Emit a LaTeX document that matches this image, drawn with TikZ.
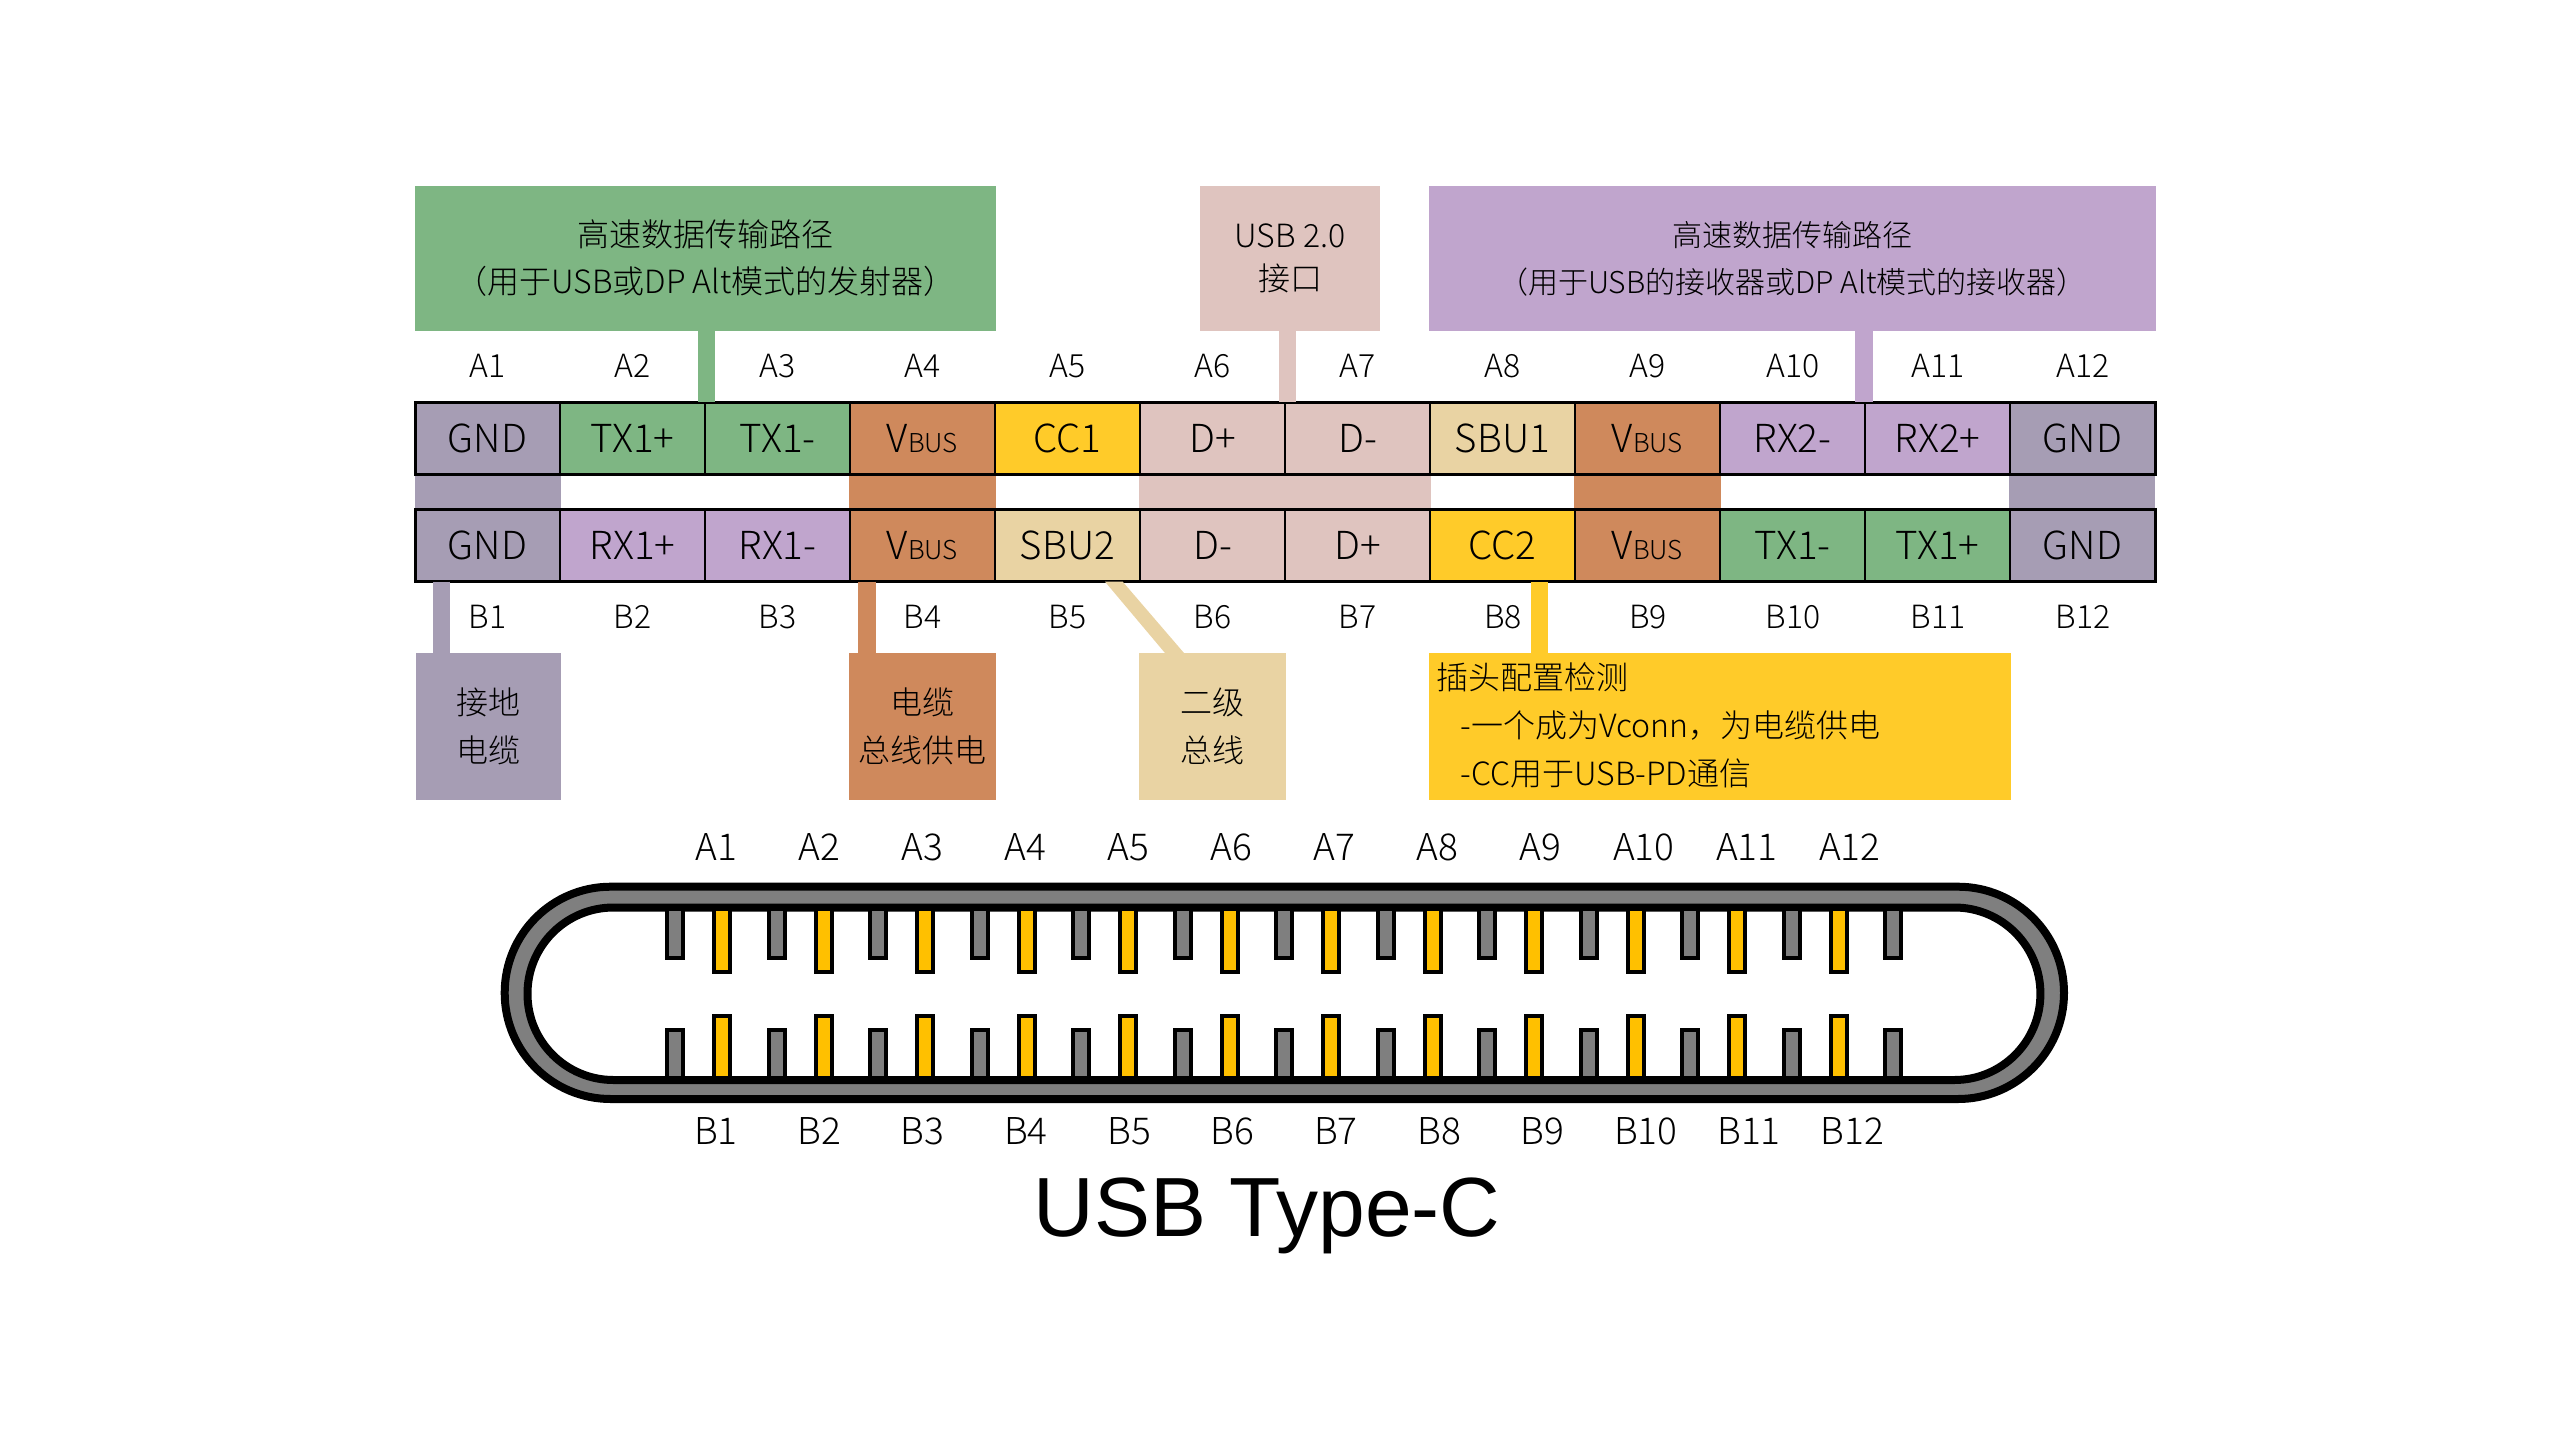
\documentclass[tikz,border=0pt]{standalone}
\usepackage{fontspec}
\setmainfont{Noto Sans CJK SC Light}
\newfontfamily\titlefont{Liberation Sans}
\newdimen\pxu \pxu=0.5pt
\definecolor{cgreen}{RGB}{126,182,131}
\definecolor{cgnd}{RGB}{166,157,180}
\definecolor{corange}{RGB}{207,137,92}
\definecolor{cyellow}{RGB}{255,203,41}
\definecolor{cpink}{RGB}{223,196,191}
\definecolor{ctan}{RGB}{233,211,163}
\definecolor{cpurple}{RGB}{192,165,205}
\definecolor{cpin}{RGB}{127,127,127}
\definecolor{cgold}{RGB}{255,192,0}
\newcommand{\vbus}{V{\fontsize{13}{13}\selectfont BUS}}
\tikzset{
  x=0.5pt,y=-0.5pt,
  cell/.style={draw=black,line width=2\pxu,inner sep=0pt,outer sep=0pt,minimum width=145\pxu,minimum height=72.7\pxu,font=\fontsize{19.3}{19.3}\selectfont,text height=14pt,text depth=0pt,anchor=north west},
  rowframe/.style={draw=black,line width=3\pxu,fill=none,inner sep=0pt,outer sep=0pt,anchor=north west,minimum width=1740\pxu,minimum height=72.7\pxu},
  pinlabel/.style={inner sep=0pt,font=\fontsize{16}{16}\selectfont,text height=11.7pt,text depth=0pt},
  portlabel/.style={inner sep=0pt,font=\fontsize{18.5}{18.5}\selectfont,text height=13.5pt,text depth=0pt},
  infobox/.style={inner sep=0pt,outer sep=0pt,anchor=north west,align=center,font=\fontsize{16}{23.5}\selectfont},
  lowerbox/.style={infobox,font=\fontsize{16}{24}\selectfont,minimum height=147\pxu},
  band/.style={line width=17.5\pxu},
}
\newcommand{\cellat}[5]{\node[cell,fill=#4] (#1) at ({415+145*#2},#3) {#5};}
\begin{document}
\begin{tikzpicture}
\useasboundingbox (0,0) rectangle (2560,1440);
% info boxes top
\node[infobox,fill=cgreen,minimum width=581\pxu,minimum height=145\pxu] (hsT) at (415,186) {高速数据传输路径\\（用于USB或DP Alt模式的发射器）};
\node[infobox,fill=cpink,minimum width=180\pxu,minimum height=145\pxu,font=\fontsize{16}{21.5}\selectfont] (usbtwo) at (1200,186) {USB 2.0\\接口};
\node[infobox,fill=cpurple,minimum width=727\pxu,minimum height=145\pxu,font=\fontsize{15}{23.5}\selectfont] (hsR) at (1429,186) {高速数据传输路径\\（用于USB的接收器或DP Alt模式的接收器）};
% info boxes bottom
\node[lowerbox,fill=cgnd,minimum width=145\pxu] (gndbox) at (416,653) {接地\\电缆};
\node[lowerbox,fill=corange,minimum width=147\pxu] (vbusbox) at (849,653) {电缆\\总线供电};
\node[lowerbox,fill=ctan,minimum width=147\pxu] (sbubox) at (1139,653) {二级\\总线};
\node[lowerbox,fill=cyellow,minimum width=582\pxu] (ccbox) at (1429,653) {};
\node[inner sep=0pt,anchor=north west,align=left,font=\fontsize{16}{24}\selectfont] (cctext) at (1436,662) {插头配置检测\\\hspace*{12pt}-一个成为Vconn，为电缆供电\\\hspace*{12pt}-CC用于USB-PD通信};
% bands between rows
\fill[cgnd] (415,475) rectangle (561,509);
\fill[corange] (849,475) rectangle (996,509);
\fill[cpink] (1139,475) rectangle (1431,509);
\fill[corange] (1574,475) rectangle (1721,509);
\fill[cgnd] (2009,475) rectangle (2155,509);
% cells top
\cellat{a1}{0}{402}{cgnd}{GND}
\cellat{a2}{1}{402}{cgreen}{TX1+}
\cellat{a3}{2}{402}{cgreen}{TX1-}
\cellat{a4}{3}{402}{corange}{\vbus}
\cellat{a5}{4}{402}{cyellow}{CC1}
\cellat{a6}{5}{402}{cpink}{D+}
\cellat{a7}{6}{402}{cpink}{D-}
\cellat{a8}{7}{402}{ctan}{SBU1}
\cellat{a9}{8}{402}{corange}{\vbus}
\cellat{a10}{9}{402}{cpurple}{RX2-}
\cellat{a11}{10}{402}{cpurple}{RX2+}
\cellat{a12}{11}{402}{cgnd}{GND}
% cells bottom
\cellat{b1}{0}{509}{cgnd}{GND}
\cellat{b2}{1}{509}{cpurple}{RX1+}
\cellat{b3}{2}{509}{cpurple}{RX1-}
\cellat{b4}{3}{509}{corange}{\vbus}
\cellat{b5}{4}{509}{ctan}{SBU2}
\cellat{b6}{5}{509}{cpink}{D-}
\cellat{b7}{6}{509}{cpink}{D+}
\cellat{b8}{7}{509}{cyellow}{CC2}
\cellat{b9}{8}{509}{corange}{\vbus}
\cellat{b10}{9}{509}{cgreen}{TX1-}
\cellat{b11}{10}{509}{cgreen}{TX1+}
\cellat{b12}{11}{509}{cgnd}{GND}
\node[rowframe] (rowA) at (415,402) {};
\node[rowframe] (rowB) at (415,509) {};
% connectors
\coordinate (cxa) at (706.5,0);
\draw[band,cgreen] (hsT.south -| cxa) -- (a3.north -| cxa);
\coordinate (cxb) at (1287.5,0);
\draw[band,cpink] (usbtwo.south -| cxb) -- (a7.north -| cxb);
\coordinate (cxc) at (1864,0);
\draw[band,cpurple] (hsR.south -| cxc) -- (a11.north -| cxc);
\coordinate (cxd) at (441.5,0);
\draw[band,cgnd] (b1.south -| cxd) -- (gndbox.north -| cxd);
\coordinate (cxe) at (867,0);
\draw[band,corange] (b4.south -| cxe) -- (vbusbox.north -| cxe);
\coordinate (sa) at (1105,0);
\coordinate (sb) at (1122.7,0);
\coordinate (sc) at (1184,0);
\coordinate (sd) at (1165,0);
\fill[ctan] (b5.south -| sa) -- (b5.south -| sb) -- (sbubox.north -| sc) -- (sbubox.north -| sd) -- cycle;
\coordinate (cxf) at (1539.5,0);
\draw[band,cyellow] (b8.south -| cxf) -- (ccbox.north -| cxf);
% pin labels table
\foreach \n [count=\i from 0] in {A1,A2,A3,A4,A5,A6,A7,A8,A9,A10,A11,A12} {
  \node[pinlabel] (ta\i) at ({487.5+145.05*\i},366) {\n};
}
\foreach \n [count=\i from 0] in {B1,B2,B3,B4,B5,B6,B7,B8,B9,B10,B11,B12} {
  \node[pinlabel] (tb\i) at ({487.5+145.05*\i},617) {\n};
}
% connector drawing
\draw[line width=8\pxu,black,fill=cpin,rounded corners=106\pxu]
  (504.7,886.7) rectangle (2064,1099);
\draw[line width=8\pxu,black,fill=white,rounded corners=86\pxu]
  (527.5,907.5) rectangle (2040.4,1080);
\foreach \i in {0,...,12} {
  \filldraw[fill=cpin,draw=black,line width=4\pxu] ({667+101.5*\i},909) rectangle ({683+101.5*\i},958);
  \filldraw[fill=cpin,draw=black,line width=4\pxu] ({667+101.5*\i},1078) rectangle ({683+101.5*\i},1030);
}
\foreach \i in {0,...,11} {
  \filldraw[fill=cgold,draw=black,line width=4\pxu] ({714+101.5*\i},909) rectangle ({730+101.5*\i},972);
  \filldraw[fill=cgold,draw=black,line width=4\pxu] ({714+101.5*\i},1078) rectangle ({730+101.5*\i},1016);
}
\foreach \n [count=\i from 0] in {A1,A2,A3,A4,A5,A6,A7,A8,A9,A10,A11,A12} {
  \node[portlabel] (pa\i) at ({716.7+103*\i},847) {\n};
}
\foreach \n [count=\i from 0] in {B1,B2,B3,B4,B5,B6,B7,B8,B9,B10,B11,B12} {
  \node[portlabel] (pb\i) at ({716+103.3*\i},1131) {\n};
}
\node[inner sep=0pt,anchor=base,font=\titlefont\fontsize{42}{42}\selectfont] (title) at (1267,1236) {USB Type-C};
\end{tikzpicture}
\end{document}
